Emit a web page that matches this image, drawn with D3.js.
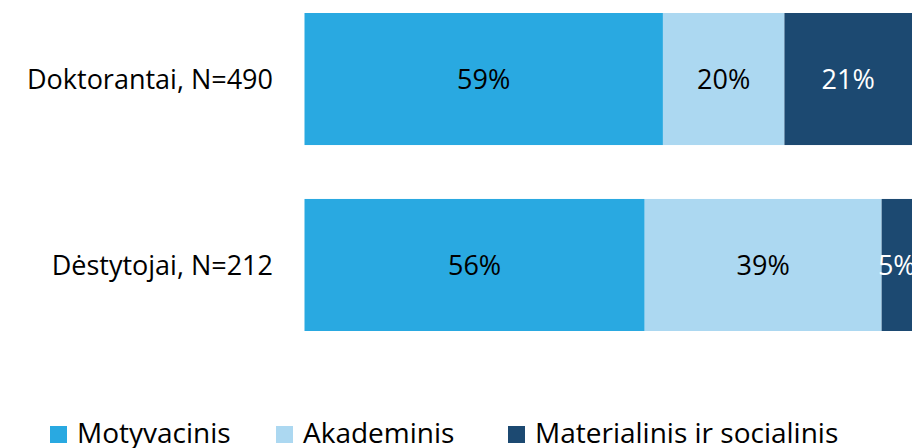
<!DOCTYPE html>
<html>
<head>
<meta charset="utf-8">
<script src="https://cdn.jsdelivr.net/npm/d3@7"></script>
<style>
  body { margin: 0; background: #fff; }
  svg text { font-family: "Open Sans", "Noto Sans", sans-serif; }
</style>
</head>
<body>
<svg id="chart" width="917" height="448"></svg>
<script>
const categories = ['Doktorantai, N=490', 'Dėstytojai, N=212'];
const seriesNames = ['Motyvacinis', 'Akademinis', 'Materialinis ir socialinis'];
const motyvacinis = [59, 56];
const akademinis = [20, 39];
const materialinis = [21, 5];
const colors = ['#29a9e1', '#acd8f1', '#1c4971'];
const labelColors = ['#000', '#000', '#fff'];

const width = 917, height = 448;
const margin = {top: 13, right: 5, bottom: 117, left: 304.5};

const rows = categories.map((c, i) => ({
    cat: c,
    Motyvacinis: motyvacinis[i],
    Akademinis: akademinis[i],
    'Materialinis ir socialinis': materialinis[i]
}));

const stack = d3.stack().keys(seriesNames);
const series = stack(rows);

const x = d3.scaleLinear().domain([0, 100]).range([margin.left, width - margin.right]);
const y = d3.scaleBand().domain(categories)
    .range([margin.top, height - margin.bottom])
    .paddingInner(0.29).paddingOuter(0);

const svg = d3.select('#chart');

svg.append('defs').append('clipPath').attr('id', 'plotclip')
    .append('rect')
    .attr('x', margin.left).attr('y', 0)
    .attr('width', x(100) - margin.left).attr('height', height);

const groups = svg.append('g').selectAll('g')
    .data(series)
    .enter().append('g')
    .attr('fill', (d, i) => colors[i]);

groups.selectAll('rect')
    .data(d => d)
    .enter().append('rect')
    .attr('x', d => x(d[0]))
    .attr('y', d => y(d.data.cat))
    .attr('width', d => x(d[1]) - x(d[0]))
    .attr('height', y.bandwidth());

const labels = svg.append('g').attr('clip-path', 'url(#plotclip)');
series.forEach((s, i) => {
    labels.selectAll('.lab' + i)
        .data(s)
        .enter().append('text')
        .attr('class', 'lab' + i)
        .attr('x', d => (x(d[0]) + x(d[1])) / 2)
        .attr('y', d => y(d.data.cat) + y.bandwidth() / 2)
        .attr('dy', '0.36em')
        .attr('text-anchor', 'middle')
        .attr('font-size', 27)
        .attr('fill', labelColors[i])
        .text(d => (d[1] - d[0]) + '%');
});

// category labels
svg.append('g').selectAll('text')
    .data(categories)
    .enter().append('text')
    .attr('x', 273)
    .attr('y', d => y(d) + y.bandwidth() / 2)
    .attr('dy', '0.36em')
    .attr('text-anchor', 'end')
    .attr('font-size', 27)
    .attr('fill', '#000')
    .text(d => d);

// legend
const legendX = [50, 276, 508];
const legend = svg.append('g').selectAll('g')
    .data(seriesNames)
    .enter().append('g')
    .attr('transform', (d, i) => 'translate(' + legendX[i] + ',426)');

legend.append('rect')
    .attr('width', 17).attr('height', 17)
    .attr('fill', (d, i) => colors[i]);

legend.append('text')
    .attr('x', 27).attr('y', 17)
    .attr('font-size', 28)
    .attr('fill', '#000')
    .text(d => d);
</script>
</body>
</html>
